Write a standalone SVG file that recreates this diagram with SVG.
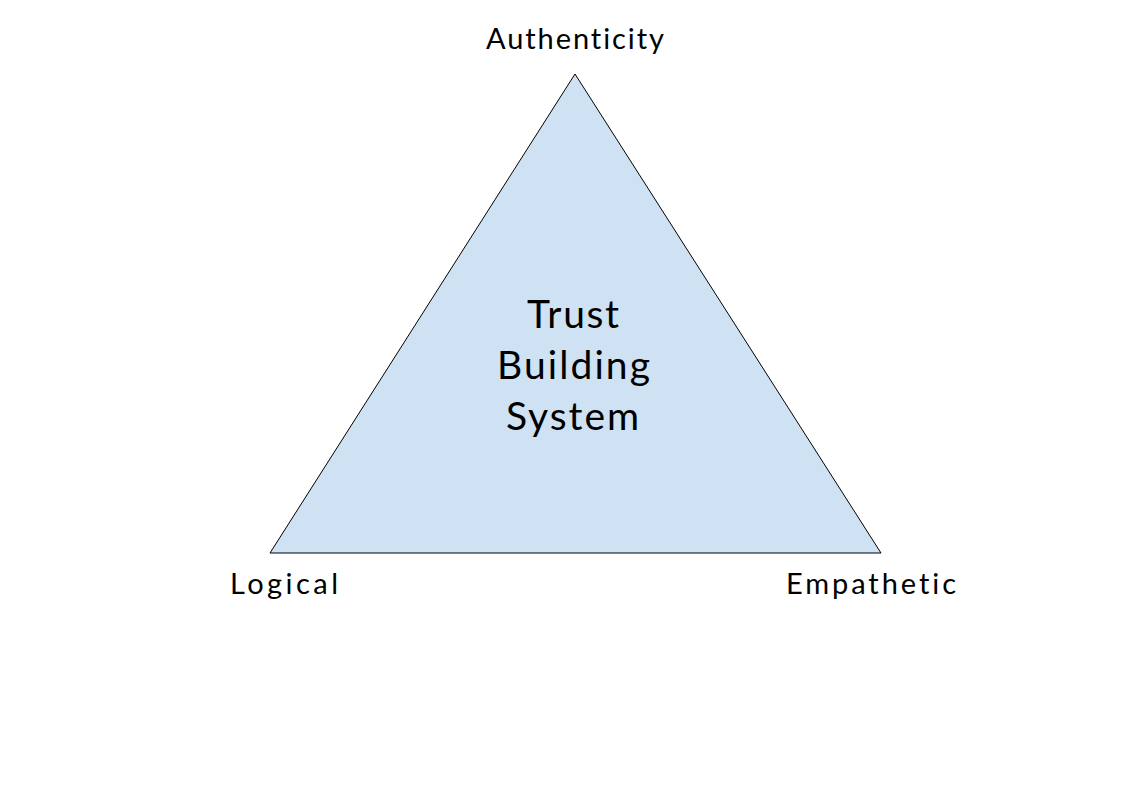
<svg xmlns="http://www.w3.org/2000/svg" width="1121" height="793" viewBox="0 0 1121 793">
<style>
text{font-variant-ligatures:none;font-feature-settings:"liga" 0,"clig" 0}
.lbl{font-family:Lato,"Open Sans",sans-serif;font-size:29px;fill:#000;text-anchor:middle}
.ctr{font-family:Lato,"Open Sans",sans-serif;font-size:39px;fill:#000;text-anchor:middle}
</style>
<rect width="1121" height="793" fill="#fff"/>
<g id="triangle">
<polygon points="575,74 270,553 881,553" fill="#cfe2f3" stroke="#000" stroke-width="1"/>
<text class="ctr" x="573" y="328" textLength="92" lengthAdjust="spacing">Trust</text>
<text class="ctr" x="573.5" y="379" textLength="153" lengthAdjust="spacing">Building</text>
<text class="ctr" x="572.5" y="430" textLength="133" lengthAdjust="spacing">System</text>
</g>
<g id="authenticity"><text class="lbl" x="575" y="49" textLength="178" lengthAdjust="spacing">Authenticity</text></g>
<g id="logical"><text class="lbl" x="284" y="594" textLength="108" lengthAdjust="spacing">Logical</text></g>
<g id="empathetic"><text class="lbl" x="871" y="594" textLength="170" lengthAdjust="spacing">Empathetic</text></g>
<g id="connectors"></g>
</svg>
